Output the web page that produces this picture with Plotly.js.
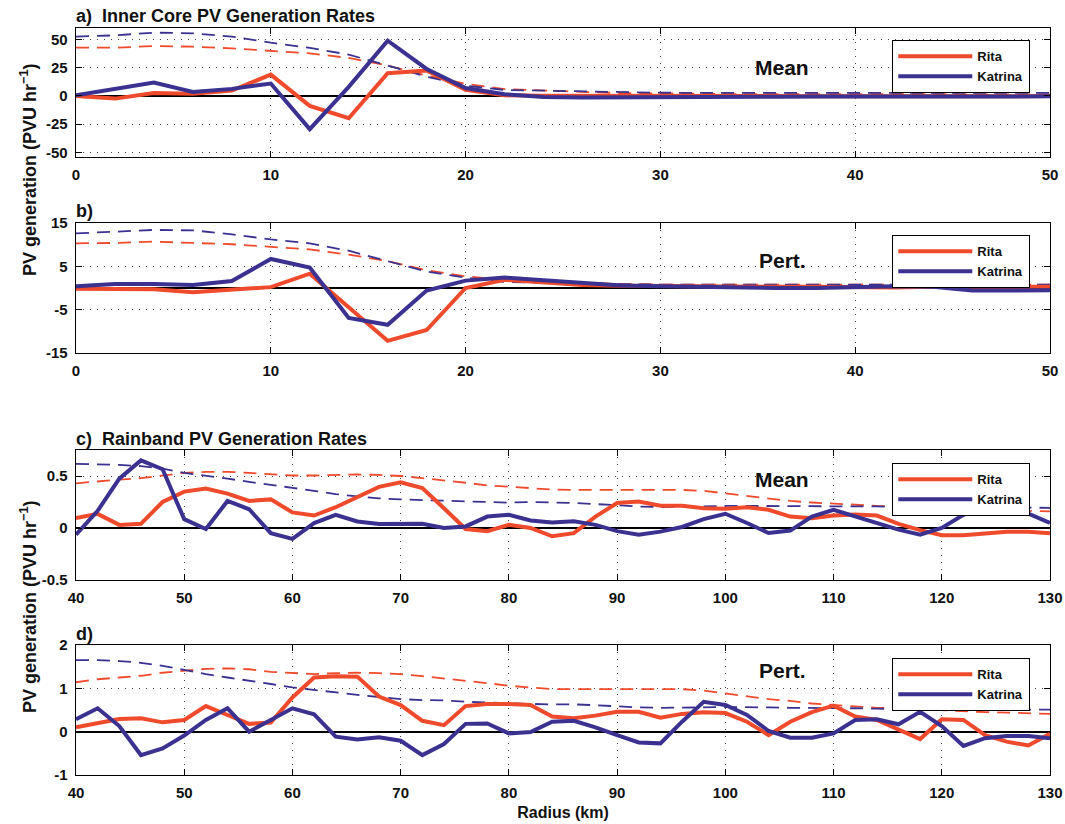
<!DOCTYPE html>
<html>
<head>
<meta charset="utf-8">
<script src="https://cdn.plot.ly/plotly-3.0.1.min.js"></script>
<style>
html,body{margin:0;padding:0;background:#ffffff;}
#chart{width:1065px;height:824px;}
</style>
</head>
<body>
<div id="chart"></div>
<script>
// ---------- data ----------
const radiusInner = [0,2,4,6,8,10,12,14,16,18,20,22,24,26,28,30,32,34,36,38,40,42,44,46,48,50];
const radiusBand = [40,42,44,46,48,50,52,54,56,58,60,62,64,66,68,70,72,74,76,78,80,82,84,86,88,90,92,94,96,98,100,102,104,106,108,110,112,114,116,118,120,122,124,126,128,130];

// a) inner core, mean
const ritaInnerMean = [0,-2.4,2.6,2,4.7,18.8,-8.8,-19.7,20,22.4,5.3,0.5,0.2,0,-0.2,-0.3,-0.3,-0.4,-0.3,-0.3,-0.3,-0.2,-0.2,-0.2,-0.2,-0.2];
const katrinaInnerMean = [0.6,5.9,11.8,3.5,6.2,10.9,-29.4,8,48.8,23.8,7,1.5,-1,-1.5,-1.2,-1,-1,-0.8,-0.8,-0.6,-0.5,-0.5,-0.5,-0.4,-0.4,-0.4];
const ritaInnerMeanRef = [42.6,42.6,44,43.5,42,40,37.6,33.5,26.8,18,10.6,6,4.5,3.5,2.5,2,1.8,1.6,1.5,1.5,1.5,1.5,1.4,1.4,1.4,1.4];
const katrinaInnerMeanRef = [52.4,53.5,55.9,55.3,52.4,47,42.4,36.5,26.8,17,9,5.3,4.6,3.8,3.2,2.8,2.7,2.6,2.6,2.6,2.6,2.6,2.6,2.6,2.6,2.6];

// b) inner core, perturbation
const ritaInnerPert = [-0.2,-0.2,-0.3,-1.0,-0.5,0.2,3.3,-4.5,-12.2,-9.7,0,1.9,1.2,0.7,0.5,0.4,0.4,0.3,0.3,0.3,0.2,0.1,0.3,0.3,0.3,0.3];
const katrinaInnerPert = [0.4,0.9,0.9,0.7,1.6,6.7,4.7,-6.9,-8.5,-0.6,1.7,2.4,1.8,1.2,0.6,0.4,0.2,0.1,0,0,0.2,0.4,0.3,-0.6,-0.6,-0.5];
const ritaInnerPertRef = [10.3,10.4,10.7,10.4,10.1,9.5,8.9,7.7,6.2,4.1,2.7,1.9,1.4,1.1,0.9,0.8,0.8,0.8,0.8,0.8,0.8,0.8,0.8,0.8,0.8,0.8];
const katrinaInnerPertRef = [12.6,13,13.4,13.3,12.4,11.2,10.3,8.6,6.2,3.8,2.4,1.4,1.2,1.0,0.9,0.8,0.8,0.8,0.8,0.8,0.8,0.8,0.8,0.8,0.8,0.8];

// c) rainband, mean
const ritaBandMean = [0.095,0.136,0.03,0.04,0.25,0.35,0.38,0.33,0.26,0.275,0.15,0.12,0.2,0.3,0.395,0.44,0.385,0.19,-0.01,-0.03,0.03,0.0,-0.08,-0.05,0.11,0.24,0.255,0.215,0.215,0.19,0.185,0.2,0.175,0.11,0.095,0.12,0.13,0.12,0.04,-0.02,-0.07,-0.07,-0.05,-0.035,-0.035,-0.05];
const katrinaBandMean = [-0.065,0.165,0.475,0.65,0.565,0.085,-0.01,0.26,0.18,-0.05,-0.105,0.047,0.127,0.063,0.038,0.04,0.04,0,0.015,0.11,0.127,0.073,0.054,0.064,0.03,-0.03,-0.064,-0.035,0.01,0.086,0.137,0.048,-0.048,-0.025,0.11,0.175,0.11,0.048,-0.016,-0.064,0,0.127,0.19,0.19,0.137,0.048];
const ritaBandMeanRef = [0.43,0.45,0.465,0.48,0.505,0.53,0.54,0.54,0.53,0.515,0.505,0.505,0.51,0.515,0.51,0.5,0.48,0.46,0.435,0.41,0.395,0.385,0.37,0.366,0.366,0.37,0.37,0.366,0.366,0.357,0.334,0.31,0.287,0.26,0.245,0.232,0.223,0.213,0.207,0.2,0.19,0.18,0.175,0.17,0.165,0.16];
const katrinaBandMeanRef = [0.617,0.614,0.607,0.595,0.57,0.53,0.506,0.475,0.443,0.418,0.386,0.358,0.326,0.304,0.285,0.275,0.27,0.263,0.256,0.25,0.244,0.25,0.248,0.24,0.23,0.217,0.207,0.2,0.2,0.207,0.213,0.213,0.213,0.213,0.213,0.213,0.207,0.207,0.204,0.2,0.2,0.2,0.197,0.197,0.194,0.194];

// d) rainband, perturbation
const ritaBandPert = [0.1,0.19,0.29,0.31,0.215,0.27,0.59,0.385,0.18,0.21,0.79,1.25,1.28,1.27,0.81,0.615,0.25,0.15,0.59,0.64,0.64,0.615,0.35,0.31,0.37,0.46,0.46,0.32,0.41,0.45,0.43,0.23,-0.08,0.23,0.45,0.6,0.35,0.27,0.04,-0.17,0.285,0.27,-0.08,-0.23,-0.32,-0.05];
const katrinaBandPert = [0.285,0.54,0.13,-0.54,-0.385,-0.09,0.27,0.54,0,0.27,0.54,0.4,-0.115,-0.18,-0.13,-0.21,-0.54,-0.285,0.18,0.19,-0.04,-0.01,0.23,0.25,0.1,-0.08,-0.25,-0.27,0.23,0.69,0.615,0.385,0.015,-0.14,-0.14,-0.04,0.27,0.285,0.17,0.46,0.13,-0.33,-0.15,-0.1,-0.1,-0.15];
const ritaBandPertRef = [1.14,1.21,1.25,1.29,1.36,1.41,1.45,1.46,1.44,1.38,1.35,1.33,1.35,1.36,1.35,1.33,1.28,1.23,1.18,1.12,1.06,1.02,0.98,0.98,0.98,0.98,0.98,0.98,0.98,0.95,0.88,0.82,0.75,0.71,0.65,0.615,0.58,0.55,0.54,0.515,0.5,0.48,0.45,0.44,0.42,0.41];
const katrinaBandPertRef = [1.65,1.65,1.63,1.59,1.52,1.42,1.33,1.25,1.18,1.1,1.02,0.96,0.9,0.85,0.8,0.75,0.73,0.72,0.69,0.67,0.65,0.64,0.63,0.63,0.61,0.58,0.56,0.55,0.55,0.56,0.57,0.57,0.56,0.55,0.55,0.55,0.54,0.53,0.53,0.52,0.515,0.515,0.515,0.515,0.51,0.51];

// tick labels
const innerTicks = [0,10,20,30,40,50];
const bandTicks = [40,50,60,70,80,90,100,110,120,130];
const ticksA = [-50,-25,0,25,50];
const ticksB = [-15,-5,5,15];
const ticksC = [-0.5,0,0.5];
const ticksD = [-1,0,1,2];

const seriesNames = ['Rita','Katrina'];
const panelTitles = ['a)\u00a0 Inner Core PV Generation Rates','b)','c)\u00a0 Rainband PV Generation Rates','d)'];
const panelTags = ['Mean','Pert.','Mean','Pert.'];

// ---------- styling ----------
const RED = '#EF4A2B';
const BLUE = '#3A3190';
const FONT = 'Liberation Sans, Arial, Helvetica, sans-serif';
const W = 1065, H = 824;

function px2x(p){ return p / W; }
function px2y(p){ return 1 - p / H; }

const xDom = [px2x(76), px2x(1050)];
const yDoms = [
  [px2y(157), px2y(28)],
  [px2y(353), px2y(223)],
  [px2y(580), px2y(450)],
  [px2y(775), px2y(645)]
];

const panels = [
  {x: radiusInner, rita: ritaInnerMean, kat: katrinaInnerMean, ritaRef: ritaInnerMeanRef, katRef: katrinaInnerMeanRef},
  {x: radiusInner, rita: ritaInnerPert, kat: katrinaInnerPert, ritaRef: ritaInnerPertRef, katRef: katrinaInnerPertRef},
  {x: radiusBand, rita: ritaBandMean, kat: katrinaBandMean, ritaRef: ritaBandMeanRef, katRef: katrinaBandMeanRef},
  {x: radiusBand, rita: ritaBandPert, kat: katrinaBandPert, ritaRef: ritaBandPertRef, katRef: katrinaBandPertRef}
];

const traces = [];
panels.forEach(function(p, i){
  const n = i === 0 ? '' : String(i + 1);
  const xa = 'x' + n, ya = 'y' + n, lg = 'legend' + n;
  traces.push({x: p.x, y: p.ritaRef, xaxis: xa, yaxis: ya, mode: 'lines', showlegend: false,
    line: {color: RED, width: 1.8, dash: '13px,8px'}, hoverinfo: 'skip'});
  traces.push({x: p.x, y: p.katRef, xaxis: xa, yaxis: ya, mode: 'lines', showlegend: false,
    line: {color: BLUE, width: 1.8, dash: '13px,8px'}, hoverinfo: 'skip'});
  traces.push({x: p.x, y: p.rita, xaxis: xa, yaxis: ya, mode: 'lines', name: seriesNames[0], legend: lg,
    line: {color: RED, width: 4}});
  traces.push({x: p.x, y: p.kat, xaxis: xa, yaxis: ya, mode: 'lines', name: seriesNames[1], legend: lg,
    line: {color: BLUE, width: 4}});
});

const tickFont = {family: FONT, size: 15, color: '#111', weight: 'bold'};

function xAxis(i, ticks, range){
  const ax = {
    domain: xDom, range: range, anchor: i === 0 ? 'y' : 'y' + (i + 1),
    tickmode: 'array', tickvals: ticks, ticktext: ticks.map(String),
    ticks: 'inside', ticklen: 6, tickwidth: 1, tickcolor: '#000',
    showline: true, linecolor: '#000', linewidth: 1.3, mirror: 'ticks',
    showgrid: true, gridcolor: '#444', gridwidth: 1, griddash: '1px,6px',
    zeroline: false, tickfont: tickFont, ticklabelstandoff: 4, fixedrange: true
  };
  if(i === 3){
    ax.title = {text: 'Radius (km)', font: {family: FONT, size: 16, color: '#111', weight: 'bold'}, standoff: 6};
  }
  return ax;
}
function yAxis(i, ticks, range){
  return {
    domain: yDoms[i], range: range, anchor: i === 0 ? 'x' : 'x' + (i + 1),
    tickmode: 'array', tickvals: ticks, ticktext: ticks.map(String),
    ticks: 'inside', ticklen: 6, tickwidth: 1, tickcolor: '#000',
    showline: true, linecolor: '#000', linewidth: 1.3, mirror: 'ticks',
    showgrid: true, gridcolor: '#444', gridwidth: 1, griddash: '1px,6px',
    zeroline: true, zerolinecolor: '#000', zerolinewidth: 2,
    tickfont: tickFont, ticklabelstandoff: 4, fixedrange: true
  };
}

function legendAt(topPx){
  return {
    x: px2x(892), y: px2y(topPx), xanchor: 'left', yanchor: 'top',
    bgcolor: '#ffffff', bordercolor: '#000', borderwidth: 1.3,
    font: {family: FONT, size: 13, color: '#111', weight: 'bold'},
    tracegroupgap: 0, itemwidth: 74
  };
}

const annotations = [];
const titleY = [16, 211, 439, 634];
panelTitles.forEach(function(t, i){
  annotations.push({text: t, xref: 'paper', yref: 'paper', x: px2x(74), y: px2y(titleY[i]),
    xanchor: 'left', yanchor: 'middle', showarrow: false,
    font: {family: FONT, size: 18, color: '#111', weight: 'bold'}});
});
const tagY = [67, 260, 479, 670];
panelTags.forEach(function(t, i){
  annotations.push({text: t, xref: 'paper', yref: 'paper', x: px2x(782), y: px2y(tagY[i]),
    xanchor: 'center', yanchor: 'middle', showarrow: false,
    font: {family: FONT, size: 21, color: '#111', weight: 'bold'}});
});
[170, 607].forEach(function(cy){
  annotations.push({text: 'PV generation (PVU hr<sup>\u22121</sup>)', xref: 'paper', yref: 'paper',
    x: px2x(28), y: px2y(cy), xanchor: 'center', yanchor: 'middle', textangle: -90, showarrow: false,
    font: {family: FONT, size: 18, color: '#111', weight: 'bold'}});
});

const layout = {
  width: W, height: H,
  margin: {l: 0, r: 0, t: 0, b: 0},
  paper_bgcolor: '#ffffff', plot_bgcolor: '#ffffff',
  font: {family: FONT, color: '#111'},
  xaxis: xAxis(0, innerTicks, [0, 50]),
  xaxis2: xAxis(1, innerTicks, [0, 50]),
  xaxis3: xAxis(2, bandTicks, [40, 130]),
  xaxis4: xAxis(3, bandTicks, [40, 130]),
  yaxis: yAxis(0, ticksA, [-54, 60]),
  yaxis2: yAxis(1, ticksB, [-15, 15]),
  yaxis3: yAxis(2, ticksC, [-0.5, 0.75]),
  yaxis4: yAxis(3, ticksD, [-1, 2]),
  legend: legendAt(40),
  legend2: legendAt(235),
  legend3: legendAt(463),
  legend4: legendAt(658),
  annotations: annotations,
  showlegend: true,
  hovermode: false
};

Plotly.newPlot('chart', traces, layout, {displayModeBar: false, staticPlot: true});
</script>
</body>
</html>
